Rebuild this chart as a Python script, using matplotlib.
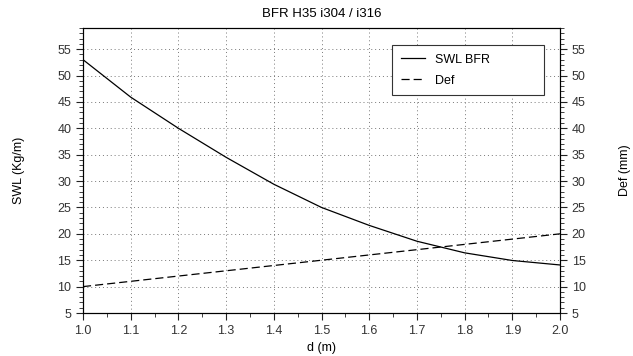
import numpy as np
import matplotlib.pyplot as plt
from matplotlib.ticker import MultipleLocator

plt.rcParams['font.family'] = ['Liberation Sans', 'DejaVu Sans']
plt.rcParams['font.size'] = 9

# Dati
d = [1.0, 1.1, 1.2, 1.3, 1.4, 1.5, 1.6, 1.7, 1.8, 1.9, 2.0]
swl = [53.0, 45.9, 40.0, 34.5, 29.4, 25.0, 21.6, 18.6, 16.4, 14.95, 14.1]
deflex = [10, 11, 12, 13, 14, 15, 16, 17, 18, 19, 20]

fig = plt.figure(figsize=(6.33, 3.56), dpi=100)
ax = fig.add_axes([83/633, 1 - 313/356, (560-83)/633, (313-28)/356])

ax.plot(d, swl, color='black', lw=0.9, label='SWL BFR')
ax.plot(d, deflex, color='black', lw=0.9, linestyle=(0, (6.5, 3.2)), label='Def')

ax.set_xlim(1.0, 2.0)
ax.set_ylim(5, 59)
ax.xaxis.set_major_locator(MultipleLocator(0.1))
ax.xaxis.set_minor_locator(MultipleLocator(0.05))
ax.yaxis.set_major_locator(MultipleLocator(5))
ax.yaxis.set_minor_locator(MultipleLocator(1))
ax.xaxis.set_major_formatter(plt.FormatStrFormatter('%.1f'))
ax.tick_params(which='major', direction='out', length=5, width=0.8, colors='#222222')
ax.tick_params(which='minor', direction='out', length=3, width=0.6, colors='#222222')
ax.tick_params(labelcolor='#333333')
ax.grid(True, which='major', linestyle=(0, (1, 3)), color='#777777', lw=0.7)

ax.set_xlabel('d (m)', labelpad=4)
ax.set_ylabel('SWL (Kg/m)', labelpad=23)
ax.set_title('BFR H35 i304 / i316', fontsize=9.5, pad=8)

ax2 = ax.twinx()
ax2.set_ylim(5, 59)
ax2.yaxis.set_major_locator(MultipleLocator(5))
ax2.yaxis.set_minor_locator(MultipleLocator(1))
ax2.tick_params(which='major', direction='out', length=5, width=0.8, colors='#222222')
ax2.tick_params(which='minor', direction='out', length=3, width=0.6, colors='#222222')
ax2.tick_params(labelcolor='#333333')
ax2.set_ylabel('Def (mm)', labelpad=24)

leg = ax.legend(loc='upper left', bbox_to_anchor=(0.648, 0.765, 0.318, 0.175),
                mode='expand', fancybox=False, edgecolor='#333333', framealpha=1,
                handlelength=1.9, borderpad=0.7, labelspacing=0.7, borderaxespad=0)
leg.get_frame().set_linewidth(0.8)

fig.savefig('out.png', dpi=100)
